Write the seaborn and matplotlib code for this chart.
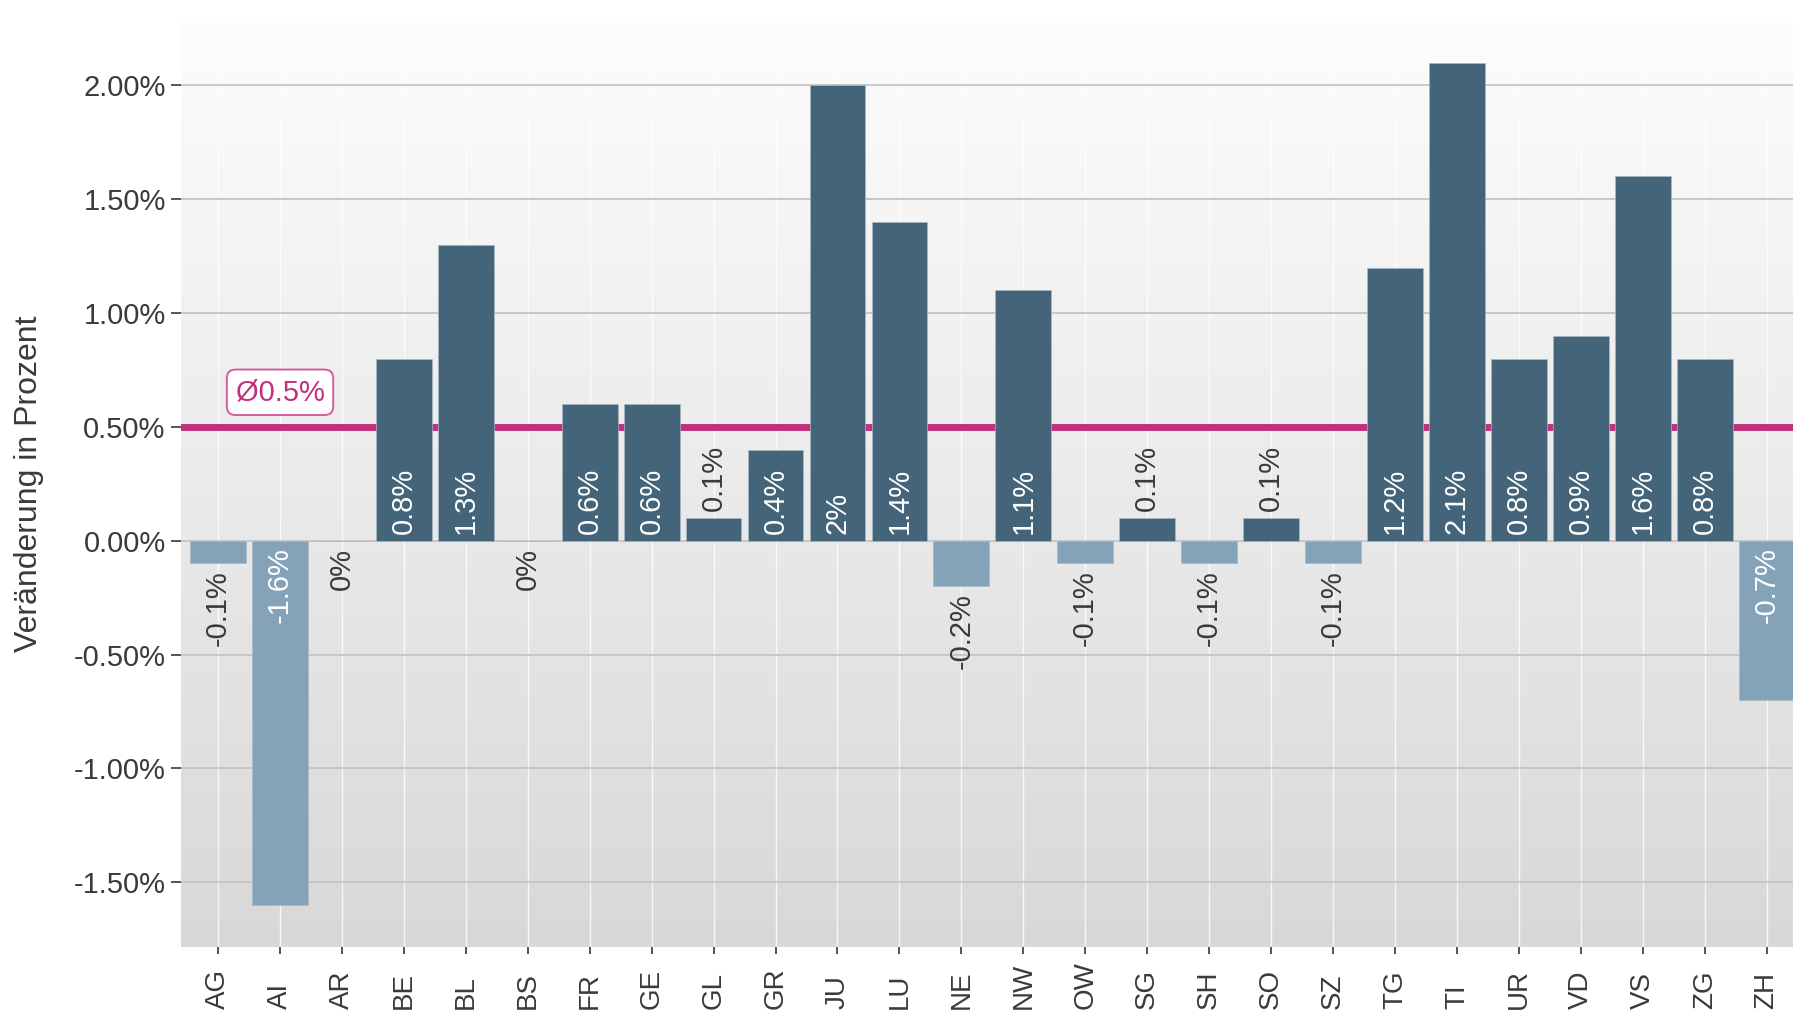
import numpy as np
import pandas as pd
import matplotlib
matplotlib.use("Agg")
import matplotlib.pyplot as plt
import seaborn as sns
from matplotlib.colors import LinearSegmentedColormap

# ---- data ----
cantons = ["AG", "AI", "AR", "BE", "BL", "BS", "FR", "GE", "GL", "GR", "JU", "LU", "NE",
           "NW", "OW", "SG", "SH", "SO", "SZ", "TG", "TI", "UR", "VD", "VS", "ZG", "ZH"]
changes = [-0.1, -1.6, 0.0, 0.8, 1.3, 0.0, 0.6, 0.6, 0.1, 0.4, 2.0, 1.4, -0.2,
           1.1, -0.1, 0.1, -0.1, 0.1, -0.1, 1.2, 2.1, 0.8, 0.9, 1.6, 0.8, -0.7]
mean_change = 0.5
y_ticks = [-1.5, -1.0, -0.5, 0.0, 0.5, 1.0, 1.5, 2.0]
y_title = "Veränderung in Prozent"

POS = "#446479"
NEG = "#84a3b9"
MAG = "#c1317c"
TXT = "#3a3a3a"

sns.set_theme(style="white")
plt.rcParams['font.family'] = ['Liberation Sans', 'DejaVu Sans']

df = pd.DataFrame({"Kanton": cantons, "Veraenderung": changes})
df["Richtung"] = np.where(df["Veraenderung"] > 0, "pos", "neg")

fig = plt.figure(figsize=(17.93, 10.18), dpi=100)
ax = fig.add_axes([0.1009, 0.0697, 0.9051, 0.9101])

# gradient panel background
grad = np.linspace(0, 1, 256).reshape(-1, 1)
cmap = LinearSegmentedColormap.from_list("bg", ["#fdfdfd", "#d8d8d8"])
ax.imshow(grad, cmap=cmap, aspect="auto", extent=[0, 1, 0, 1],
          transform=ax.transAxes, zorder=-10, origin="upper")

# average line (behind bars)
ax.axhline(mean_change, color=MAG, lw=5, zorder=1.5)

sns.barplot(data=df, x="Kanton", y="Veraenderung", hue="Richtung", order=cantons,
            palette={"pos": POS, "neg": NEG}, dodge=False, width=0.9, legend=False,
            saturation=1, edgecolor="#a9b8c3", linewidth=0.5, ax=ax)
for p in ax.patches:
    p.set_zorder(2)

# bar labels
for i, v in enumerate(changes):
    lab = f"{v:g}%"
    if v > 0.3:
        y, ha, col = 0.03, "left", "white"
    elif v > 0:
        y, ha, col = v + 0.03, "left", TXT
    elif v < -0.3:
        y, ha, col = -0.03, "right", "white"
    else:
        y, ha, col = v - 0.03, "right", TXT
    ax.text(i, y, lab, rotation=90, rotation_mode="anchor", ha=ha, va="center",
            fontsize=21, color=col, zorder=3)

# average label
ax.text(1, 0.652, f"Ø{mean_change:g}%", ha="center", va="center", fontsize=21,
        color=MAG, zorder=4,
        bbox=dict(boxstyle="round,pad=0.3,rounding_size=0.3", fc="white",
                  ec="#d25d9c", lw=1.4))

ax.set_xlim(-0.6, len(cantons) - 0.4)
ax.set_ylim(-1.785, 2.285)
ax.set_yticks(y_ticks)
ax.set_yticklabels([f"{t:.2f}%" for t in y_ticks])
ax.set_xticks(range(len(cantons)))
ax.set_xticklabels(cantons, rotation=90, rotation_mode="anchor", ha="left", va="center")
ax.set_xlabel("")
ax.set_ylabel(y_title, fontsize=23, color=TXT, ha="center", va="center")
ax.yaxis.set_label_coords(-0.0937, 0.5)

ax.set_axisbelow(True)
ax.yaxis.grid(True, color="#c4c4c4", lw=1.3)
ax.xaxis.grid(True, color="white", lw=1.0, alpha=0.8)
for s in ax.spines.values():
    s.set_visible(False)
ax.tick_params(axis="y", left=True, length=7, width=1.4,
               color="#555555", labelsize=21, labelcolor=TXT, pad=4)
ax.tick_params(axis="x", bottom=True, length=5, width=1.4,
               color="#555555", labelsize=20, labelcolor=TXT, pad=39.5)

fig.savefig("out.png", dpi=100)
